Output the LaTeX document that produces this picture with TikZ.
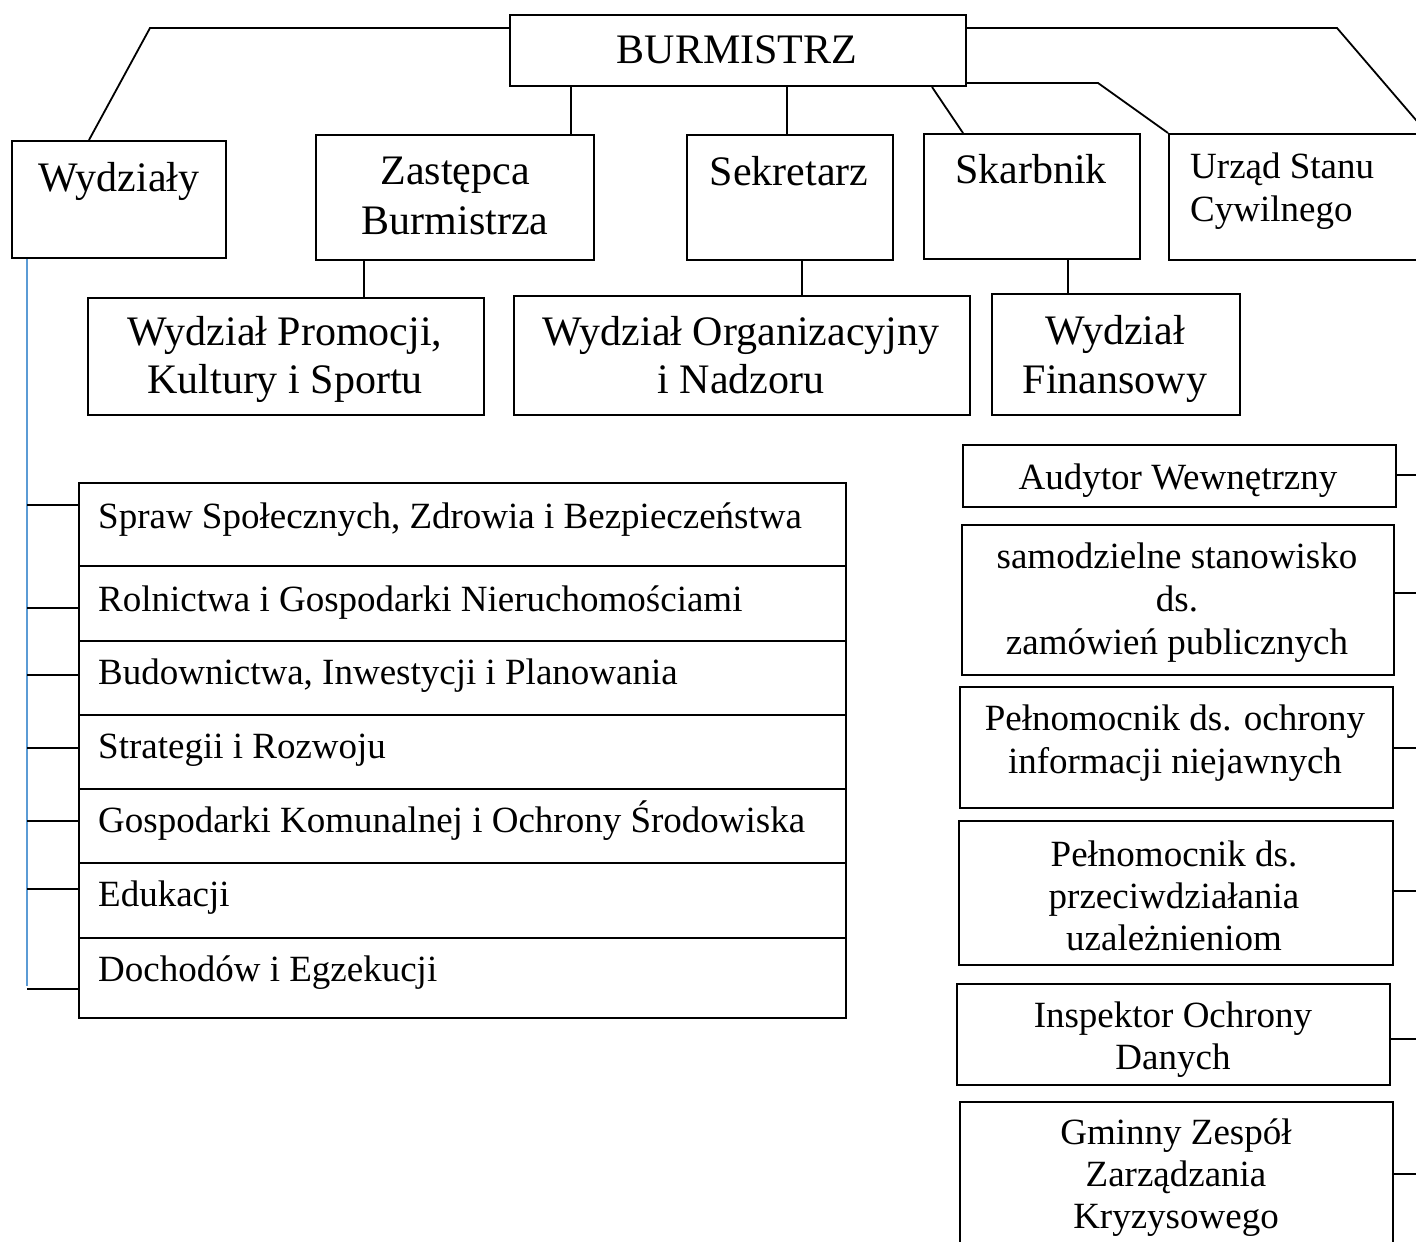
\documentclass[tikz,border=0pt]{standalone}
\usepackage{fontspec}
\setmainfont{Liberation Serif}
\usetikzlibrary{calc}
\definecolor{lineblue}{RGB}{91,155,213}
\begin{document}
\begin{tikzpicture}[x=1pt,y=-1pt,
  box/.style={draw, line width=2pt, inner sep=0pt, anchor=north west},
  conn/.style={line width=1.8pt},
  bigtxt/.style={font=\fontsize{42}{50}\selectfont, align=center, anchor=base, inner sep=0pt},
  smalltxt/.style={font=\fontsize{37}{43}\selectfont, align=center, anchor=base, inner sep=0pt},
  rowtxt/.style={font=\fontsize{37}{43}\selectfont, anchor=base west, inner sep=0pt}]
\useasboundingbox (0,0) rectangle (1416,1242);
\clip (0,0) rectangle (1416,1242);

% top level
\node[box, minimum width=456pt, minimum height=71pt] (burm) at (509,14) {};
\node[bigtxt] (burmT) at (737,63) {BURMISTRZ};

% second level
\node[box, minimum width=214pt, minimum height=117pt] (wyd) at (11,140) {};
\node[bigtxt] (wydT) at (119,191) {Wydziały};
\node[box, minimum width=278pt, minimum height=125pt] (zast) at (315,134) {};
\node[bigtxt] (zastT) at (455,234) {Zastępca\\Burmistrza};
\node[box, minimum width=206pt, minimum height=125pt] (sek) at (686,134) {};
\node[bigtxt] (sekT) at (789,185) {Sekretarz};
\node[box, minimum width=216pt, minimum height=125pt] (skarb) at (923,133) {};
\node[bigtxt] (skarbT) at (1031,183) {Skarbnik};
\node[box, minimum width=272pt, minimum height=126pt] (usc) at (1168,133) {};
\node[smalltxt, align=left, anchor=base west] (uscT) at (1190,221) {Urząd Stanu\\Cywilnego};

% third level
\node[box, minimum width=396pt, minimum height=117pt] (promo) at (87,297) {};
\node[bigtxt, font=\fontsize{42}{48}\selectfont] (promoT) at (285,393) {Wydział Promocji,\\Kultury i Sportu};
\node[box, minimum width=456pt, minimum height=119pt] (org) at (513,295) {};
\node[bigtxt, font=\fontsize{42}{48}\selectfont] (orgT) at (741,393) {Wydział Organizacyjny\\i Nadzoru};
\node[box, minimum width=248pt, minimum height=121pt] (fin) at (991,293) {};
\node[bigtxt, font=\fontsize{42}{49}\selectfont] (finT) at (1115,393) {Wydział\\Finansowy};

% list of departments
\node[box, minimum width=767pt, minimum height=83pt] (r1) at (78,482) {};
\node[box, minimum width=767pt, minimum height=75pt] (r2) at (78,565) {};
\node[box, minimum width=767pt, minimum height=74pt] (r3) at (78,640) {};
\node[box, minimum width=767pt, minimum height=74pt] (r4) at (78,714) {};
\node[box, minimum width=767pt, minimum height=74pt] (r5) at (78,788) {};
\node[box, minimum width=767pt, minimum height=75pt] (r6) at (78,862) {};
\node[box, minimum width=767pt, minimum height=80pt] (r7) at (78,937) {};
\node[rowtxt] (r1T) at (98,528) {Spraw Społecznych, Zdrowia i Bezpieczeństwa};
\node[rowtxt] (r2T) at (98,611) {Rolnictwa i Gospodarki Nieruchomościami};
\node[rowtxt] (r3T) at (98,684) {Budownictwa, Inwestycji i Planowania};
\node[rowtxt] (r4T) at (98,758) {Strategii i Rozwoju};
\node[rowtxt] (r5T) at (98,832) {Gospodarki Komunalnej i Ochrony Środowiska};
\node[rowtxt] (r6T) at (98,906) {Edukacji};
\node[rowtxt] (r7T) at (98,981) {Dochodów i Egzekucji};

% right column
\node[box, minimum width=433pt, minimum height=62pt] (aud) at (962,444) {};
\node[smalltxt] (audT) at (1178,489) {Audytor Wewnętrzny};
\node[box, minimum width=432pt, minimum height=150pt] (sam) at (961,524) {};
\node[smalltxt] (samT) at (1177,654) {samodzielne stanowisko\\ds.\\zamówień publicznych};
\node[box, minimum width=433pt, minimum height=121pt] (pel1) at (959,686) {};
\node[smalltxt] (pel1T) at (1175,773) {Pełnomocnik ds. ochrony\\informacji niejawnych};
\node[box, minimum width=434pt, minimum height=144pt] (pel2) at (958,820) {};
\node[smalltxt, font=\fontsize{37}{42}\selectfont] (pel2T) at (1174,950) {Pełnomocnik ds.\\przeciwdziałania\\uzależnieniom};
\node[box, minimum width=433pt, minimum height=101pt] (insp) at (956,983) {};
\node[smalltxt, font=\fontsize{37}{42}\selectfont] (inspT) at (1173,1069) {Inspektor Ochrony\\Danych};
\node[box, minimum width=433pt, minimum height=160pt] (gzk) at (959,1101) {};
\node[smalltxt, font=\fontsize{37}{42}\selectfont] (gzkT) at (1176,1228) {Gminny Zespół\\Zarządzania\\Kryzysowego};

% connectors from BURMISTRZ
\coordinate (tl) at (150,28);
\coordinate (tr) at (1337,28);
\coordinate (trend) at (1440,148);
\coordinate (mr) at (1098,83);
\draw[conn] (burm.west |- tl) -- (tl) -- ([xshift=78pt]wyd.north west);
\draw[conn] (burm.east |- tr) -- (tr) -- (trend);
\draw[conn] (burm.east |- mr) -- (mr) -- (usc.north west);
\draw[conn] ([xshift=-35pt]burm.south east) -- ([xshift=40pt]skarb.north west);
\draw[conn] ([xshift=62pt]burm.south west) -- ([xshift=62pt]burm.south west |- zast.north);
\draw[conn] ([xshift=278pt]burm.south west) -- ([xshift=278pt]burm.south west |- sek.north);
\draw[conn] ([xshift=49pt]zast.south west) -- ([xshift=49pt]zast.south west |- promo.north);
\draw[conn] ([xshift=116pt]sek.south west) -- ([xshift=116pt]sek.south west |- org.north);
\draw[conn] ([xshift=145pt]skarb.south west) -- ([xshift=145pt]skarb.south west |- fin.north);

% left bracket
\coordinate (bl) at (27,986);
\draw[lineblue, line width=1.2pt] ([xshift=16pt]wyd.south west) -- (bl);
\coordinate (t1) at (27,505);
\coordinate (t2) at (27,608);
\coordinate (t3) at (27,675);
\coordinate (t4) at (27,748);
\coordinate (t5) at (27,821);
\coordinate (t6) at (27,889);
\coordinate (t7) at (27,989);
\draw[conn] (t1) -- (t1 -| r1.west);
\draw[conn] (t2) -- (t2 -| r2.west);
\draw[conn] (t3) -- (t3 -| r3.west);
\draw[conn] (t4) -- (t4 -| r4.west);
\draw[conn] (t5) -- (t5 -| r5.west);
\draw[conn] (t6) -- (t6 -| r6.west);
\draw[conn] (t7) -- (t7 -| r7.west);

% right ticks
\coordinate (q1) at (1420,475);
\coordinate (q2) at (1420,593);
\coordinate (q3) at (1420,748);
\coordinate (q4) at (1420,891);
\coordinate (q5) at (1420,1039);
\coordinate (q6) at (1420,1174);
\draw[conn] (aud.east |- q1) -- (q1);
\draw[conn] (sam.east |- q2) -- (q2);
\draw[conn] (pel1.east |- q3) -- (q3);
\draw[conn] (pel2.east |- q4) -- (q4);
\draw[conn] (insp.east |- q5) -- (q5);
\draw[conn] (gzk.east |- q6) -- (q6);
\end{tikzpicture}
\end{document}
